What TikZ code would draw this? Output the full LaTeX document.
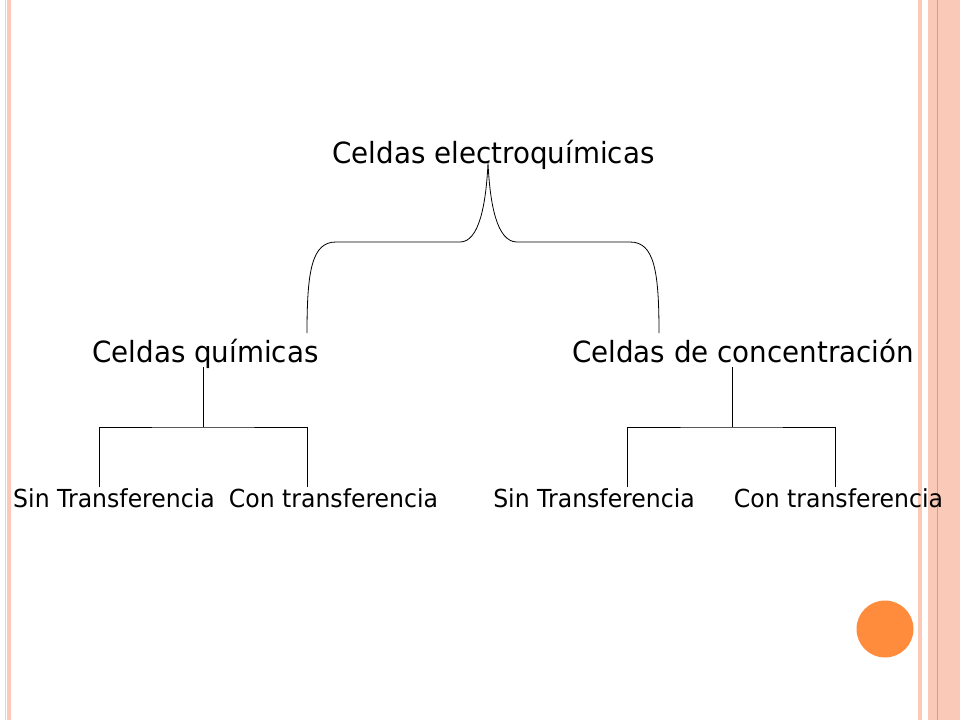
\documentclass[tikz,border=0pt]{standalone}
\usepackage{fontspec}
\setmainfont{DejaVu Sans}[FakeStretch=0.95]
\usetikzlibrary{positioning}
\definecolor{stripe}{RGB}{251,201,184}
\definecolor{stripedark}{RGB}{236,150,112}
\definecolor{dot}{RGB}{255,139,61}
\begin{document}
\begin{tikzpicture}[x=1pt, y=-1pt,
				title/.style = {anchor = base, inner sep = 0pt, font = \fontsize{29.2}{34}\selectfont},
				leaf/.style = {anchor = base, inner sep = 0pt, font = \fontsize{24.8}{29}\selectfont},
				link/.style = {line width = 0.8pt},
			]
			\useasboundingbox (0,0) rectangle (960,720);
			\fill[white] (0,0) rectangle (960,720);
			% page decoration
			\fill[stripe] (5,0) rectangle (11,720);
			\fill[white] (6,0) rectangle (7.3,720);
			\fill[stripe] (918,0) rectangle (922,720);
			\fill[stripe] (928,0) rectangle (960,720);
			\fill[stripedark] (936.5,0) rectangle (937.5,720);
			\fill[dot] (885,629) circle (28.5);

			\node[title](E) at (493.5,163){Celdas electroquímicas};
			\node[title](Q) at (205.5,362){Celdas químicas};
			\node[title](C) at (743,362){Celdas de concentración};
			\node[leaf](QS) at (114,507){Sin Transferencia};
			\node[leaf](QC) at (333.5,507){Con transferencia};
			\node[leaf](CS) at (594,507){Sin Transferencia};
			\node[leaf](CC) at (838.5,507){Con transferencia};

			% brace
			\coordinate(tip) at (488,163);
			\coordinate(bl) at (307,333);
			\coordinate(br) at (659,333);
			\draw[link](bl) .. controls (307,270) and (312,242) .. (336,242) -- (460,242)
				.. controls (479,242) and (486,205) .. (tip)
				.. controls (490,205) and (497,242) .. (517,242) -- (630,242)
				.. controls (654,242) and (659,270) .. (br);

			% trees
			\coordinate(Qtop) at (203,367);
			\coordinate(Qbar) at (203,427);
			\coordinate(QSend) at (99,487);
			\coordinate(QCend) at (307,487);
			\draw[link](Qtop)--(Qbar);
			\draw[link](QSend) |- (Qbar) -| (QCend);

			\coordinate(Ctop) at (732,367);
			\coordinate(Cbar) at (732,427);
			\coordinate(CSend) at (627,487);
			\coordinate(CCend) at (835,487);
			\draw[link](Ctop)--(Cbar);
			\draw[link](CSend) |- (Cbar) -| (CCend);

		\end{tikzpicture}
\end{document}
